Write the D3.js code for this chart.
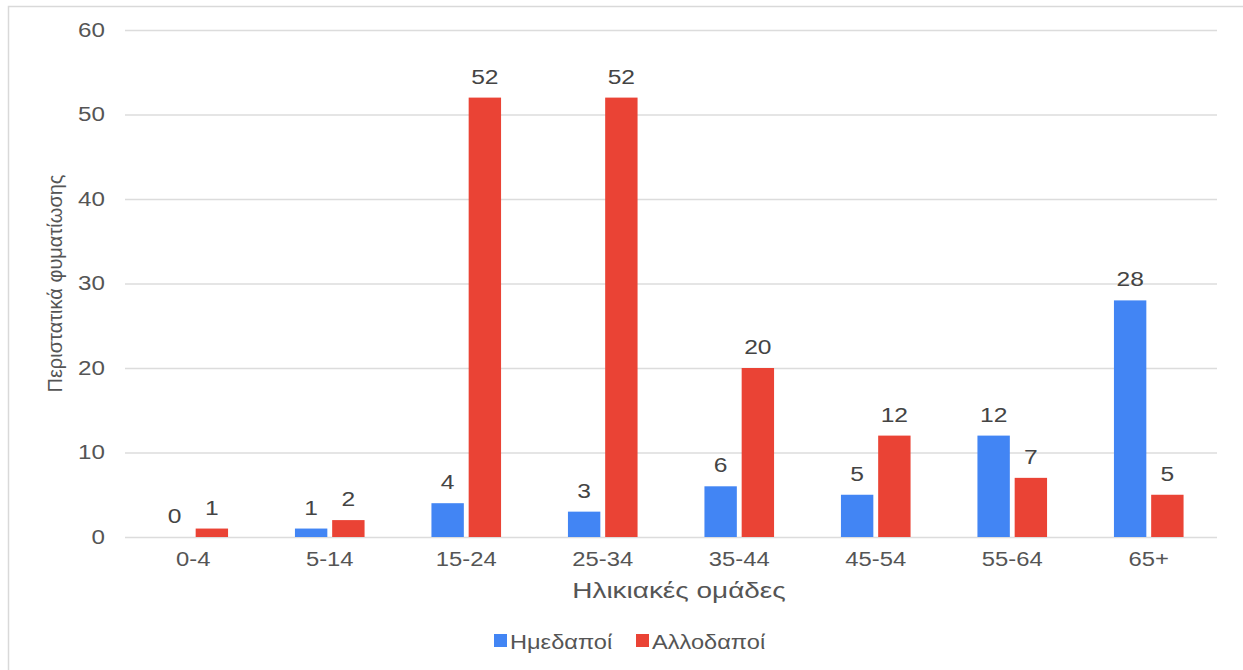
<!DOCTYPE html>
<html>
<head>
    <meta charset="utf-8">
    <title>Φυματίωση ανά ηλικιακή ομάδα</title>
    <script src="https://d3js.org/d3.v7.min.js"></script>
    <style>
        body { margin: 0; background: #fff; }
        text { font-family: "Liberation Sans", Arial, sans-serif; }
    </style>
</head>
<body>
    <script>
        // data
        var categories = ["0-4", "5-14", "15-24", "25-34", "35-44", "45-54", "55-64", "65+"];
        var seriesNames = ["Ημεδαποί", "Αλλοδαποί"];
        var imedapoi = [0, 1, 4, 3, 6, 5, 12, 28];
        var allodapoi = [1, 2, 52, 52, 20, 12, 7, 5];
        var yTicks = [0, 10, 20, 30, 40, 50, 60];
        var colors = ["#4285f4", "#ea4335"];

        var width = 1243;
        var height = 670;
        var margin = {top: 30, right: 26, bottom: 133, left: 125};
        var wide = 1.21; // the labels in the original are drawn a bit wider

        // squeeze/stretch a text horizontally around its own x
        function stretch(sel, s) {
            sel.each(function() {
                var t = d3.select(this);
                var x = +t.attr("x") || 0;
                t.attr("x", 0).attr("transform", "translate(" + x + ",0)scale(" + s + ",1)");
            });
        }

        var svg = d3.select("body").append("svg")
            .attr("width", width)
            .attr("height", height);

        // outer frame
        svg.append("path")
            .attr("d", "M8.5," + height + "V6.5H" + width)
            .attr("fill", "none")
            .attr("stroke", "#d9d9d9")
            .attr("stroke-width", 1.5);

        var x0 = d3.scaleBand()
            .domain(categories)
            .range([margin.left, width - margin.right])
            .paddingInner(0.49)
            .paddingOuter(0.245);

        var x1 = d3.scaleBand()
            .domain(seriesNames)
            .range([0, x0.bandwidth()])
            .paddingInner(0.13);

        var y = d3.scaleLinear()
            .domain([0, 60])
            .range([height - margin.bottom, margin.top]);

        // gridlines and y labels
        var yAxis = d3.axisLeft(y)
            .tickValues(yTicks)
            .tickSize(-(width - margin.left - margin.right))
            .tickPadding(20);

        var gy = svg.append("g")
            .attr("transform", "translate(" + margin.left + ",0)")
            .call(yAxis);
        gy.select(".domain").remove();
        gy.selectAll("line").attr("stroke", "#dcdcdc").attr("stroke-width", 1.3);
        gy.selectAll("text")
            .attr("fill", "#555")
            .style("font-size", "20px")
            .call(stretch, wide);

        // x labels
        var xAxis = d3.axisBottom(x0).tickSize(0).tickPadding(15);
        var gx = svg.append("g")
            .attr("transform", "translate(0," + (height - margin.bottom) + ")")
            .call(xAxis);
        gx.select(".domain").remove();
        gx.selectAll("text")
            .attr("fill", "#555")
            .style("font-size", "20px")
            .call(stretch, 1.19);

        var rows = categories.map(function(c, i) {
            return {cat: c, values: [imedapoi[i], allodapoi[i]]};
        });

        var groups = svg.append("g").selectAll("g")
            .data(rows)
            .enter().append("g")
            .attr("transform", function(d) { return "translate(" + x0(d.cat) + ",0)"; });

        var items = groups.selectAll("g")
            .data(function(d) {
                return d.values.map(function(v, k) { return {name: seriesNames[k], value: v, k: k}; });
            })
            .enter().append("g");

        items.append("rect")
            .attr("x", function(d) { return x1(d.name); })
            .attr("y", function(d) { return y(d.value); })
            .attr("width", x1.bandwidth())
            .attr("height", function(d) { return y(0) - y(d.value); })
            .attr("fill", function(d) { return colors[d.k]; });

        items.append("text")
            .attr("x", function(d) { return x1(d.name) + x1.bandwidth() / 2; })
            .attr("y", function(d) { return y(d.value) - 14; })
            .attr("text-anchor", "middle")
            .attr("fill", "#444")
            .style("font-size", "20px")
            .text(function(d) { return d.value; })
            .call(stretch, 1.23);

        // axis titles
        svg.append("text")
            .attr("transform", "translate(62," + ((margin.top + height - margin.bottom) / 2) + ")rotate(-90)")
            .attr("text-anchor", "middle")
            .attr("fill", "#555")
            .style("font-size", "20px")
            .text("Περιστατικά φυματίωσης");

        svg.append("text")
            .attr("x", 679)
            .attr("y", 598)
            .attr("text-anchor", "middle")
            .attr("fill", "#555")
            .style("font-size", "22px")
            .text("Ηλικιακές ομάδες")
            .call(stretch, 1.27);

        // legend
        var legend = svg.append("g").attr("transform", "translate(494,641)");
        var lx = [0, 142];
        seriesNames.forEach(function(name, k) {
            legend.append("rect")
                .attr("x", lx[k])
                .attr("y", -7)
                .attr("width", 13)
                .attr("height", 13)
                .attr("fill", colors[k]);
            legend.append("text")
                .attr("x", lx[k] + 16)
                .attr("y", 8)
                .attr("fill", "#555")
                .style("font-size", "20px")
                .text(name)
                .call(stretch, 1.18);
        });
    </script>
</body>
</html>
